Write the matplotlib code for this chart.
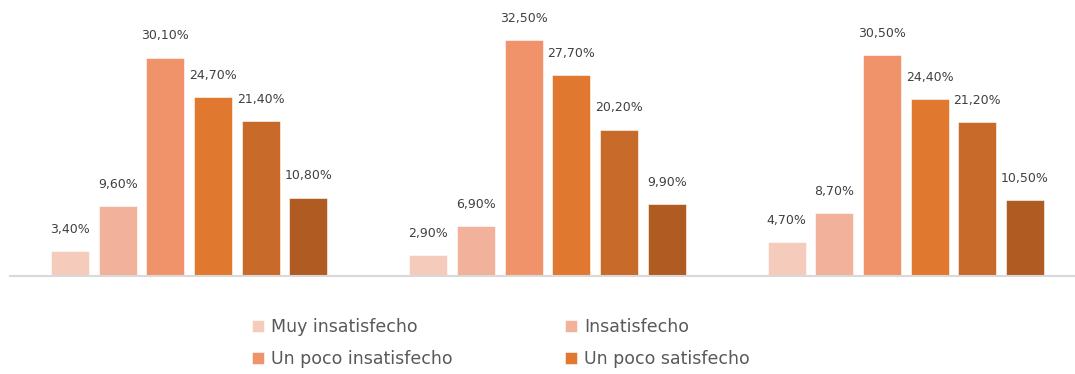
import numpy as np
import matplotlib.pyplot as plt

# data
series = ['Muy insatisfecho', 'Insatisfecho', 'Un poco insatisfecho',
          'Un poco satisfecho', 'Satisfecho', 'Muy satisfecho']
group1 = [3.4, 9.6, 30.1, 24.7, 21.4, 10.8]
group2 = [2.9, 6.9, 32.5, 27.7, 20.2, 9.9]
group3 = [4.7, 8.7, 30.5, 24.4, 21.2, 10.5]
colors = ['#F5CBBC', '#F2B19A', '#F0936A', '#E07830', '#C86A29', '#B05B22']

values = np.array([group1, group2, group3])
x = np.arange(values.shape[0])

fig = plt.figure(figsize=(10.75, 3.74), dpi=100)
ax = fig.add_axes([10/1075, 98/374, 1.0, 253.75/374])

step = 0.133
width = 0.106
handles = []
for i, name in enumerate(series):
    pos = x + (i - 2.5)*step
    b = ax.bar(pos, values[:, i], width, color=colors[i], label=name,
               edgecolor='white', linewidth=0.4)
    handles.append(b)
    for xp, v in zip(pos, values[:, i]):
        ax.annotate(('%.2f%%' % v).replace('.', ','), (xp, v),
                    xytext=(0, 11), textcoords='offset points',
                    ha='center', va='bottom', fontsize=9, color='#404040')

ax.set_xlim(-0.5, 2.5)
ax.set_ylim(0, 35)
for s in ['top', 'right', 'left']:
    ax.spines[s].set_visible(False)
ax.spines['bottom'].set_color('#D9D9D9')
ax.spines['bottom'].set_linewidth(1.5)
ax.set_xticks([])
ax.set_yticks([])

# the third legend row falls below the picture, like the original
order = [0, 2, 4, 1, 3, 5]
fig.legend([handles[k] for k in order], [series[k] for k in order],
           ncol=2, loc='upper left', bbox_to_anchor=(252/1075, 1 - 318/374),
           frameon=False, fontsize=12.5, labelcolor='#595959',
           handlelength=0.7, handleheight=0.7, handletextpad=0.4,
           labelspacing=0.8, columnspacing=6.45, borderpad=0, borderaxespad=0)

fig.savefig('out.png', dpi=100)
